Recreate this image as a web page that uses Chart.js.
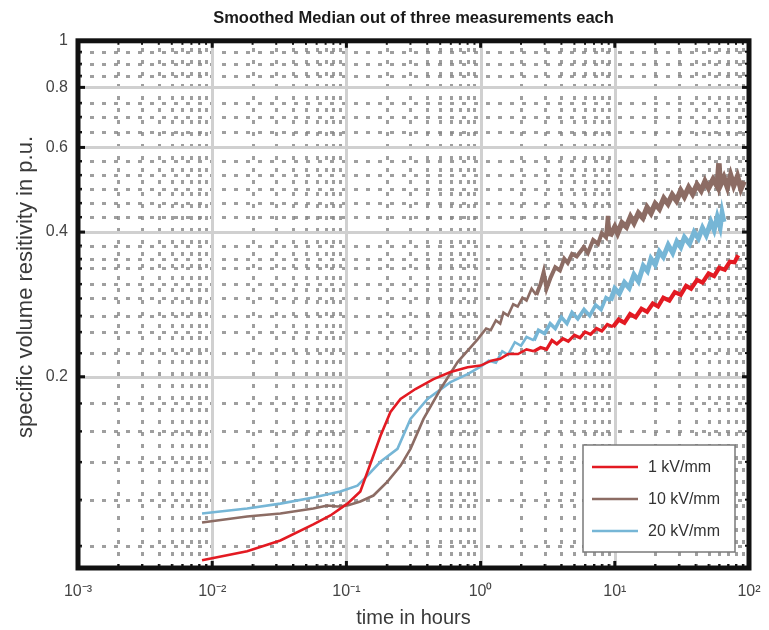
<!DOCTYPE html>
<html>
<head>
<meta charset="utf-8">
<script src="https://cdn.jsdelivr.net/npm/chart.js@4/dist/chart.umd.min.js"></script>
<style>
html,body{margin:0;padding:0;background:#fff;}
#wrap{width:769px;height:630px;}
</style>
</head>
<body>
<div id="wrap"><canvas id="c" width="769" height="630"></canvas></div>
<script>
// ---------------- data ----------------
const chartTitle = 'Smoothed Median out of three measurements each';
const xAxisTitle = 'time in hours';
const yAxisTitle = 'specific volume resitivity in p.u.';
const seriesLabels = ['1 kV/mm', '10 kV/mm', '20 kV/mm'];

const xTickValues = [0.001, 0.01, 0.1, 1, 10, 100];
const xTickLabels = ['10\u207B\u00B3', '10\u207B\u00B2', '10\u207B\u00B9', '10\u2070', '10\u00B9', '10\u00B2'];
const yTickValues = [0.2, 0.4, 0.6, 0.8, 1];
const yTickLabels = ['0.2', '0.4', '0.6', '0.8', '1'];
const yMinorValues = [0.089, 0.111, 0.133, 0.154, 0.176, 0.224, 0.248, 0.268, 0.291, 0.312, 0.336, 0.352, 0.375,
                      0.430, 0.460, 0.492, 0.526, 0.562, 0.646, 0.695, 0.743, 0.846, 0.896, 0.949];

// 1 kV/mm
const redTime = [0.0084, 0.0182, 0.0322, 0.0567, 0.076, 0.1017, 0.127, 0.151, 0.1796, 0.213, 0.253, 0.327, 0.446, 0.597, 0.80,
  1.0, 1.2, 1.4, 1.6, 1.9, 2.2, 2.5, 2.8, 3.1, 3.4, 3.7, 4.1, 4.5, 5.0, 5.5, 6.0, 6.6, 7.3, 8.0, 8.8, 9.7, 10.7, 11.8, 13,
  14.3, 15.8, 17.4, 19.2, 21, 23, 25.5, 28, 31, 34, 37, 41, 45, 50, 55, 60, 66, 72, 78, 83];
const redRho = [0.0830, 0.0867, 0.0913, 0.0986, 0.1029, 0.1089, 0.1154, 0.1318, 0.1507, 0.1689, 0.1798, 0.1886, 0.1977, 0.2045, 0.2094,
  0.211, 0.216, 0.218, 0.223, 0.223, 0.228, 0.226, 0.230, 0.228, 0.238, 0.234, 0.240, 0.237, 0.244, 0.241, 0.248, 0.245, 0.252, 0.249, 0.257, 0.254, 0.263, 0.259, 0.270,
  0.266, 0.277, 0.273, 0.284, 0.280, 0.292, 0.288, 0.300, 0.296, 0.309, 0.305, 0.318, 0.314, 0.328, 0.324, 0.337, 0.334, 0.347, 0.346, 0.358];

// 10 kV/mm
const brownTime = [0.0084, 0.0182, 0.0322, 0.0567, 0.0722, 0.0857, 0.1017, 0.127, 0.159, 0.2023, 0.253, 0.3003, 0.3755, 0.5029, 0.6737, 0.95,
  1.1, 1.19, 1.3, 1.4, 1.48, 1.6, 1.75, 1.89, 2.05, 2.2, 2.4, 2.6, 2.8, 2.95, 3.1, 3.33, 3.6, 3.9, 4.2, 4.46, 4.8, 5.2, 5.87, 6.3,
  6.9, 7.5, 8.0, 8.6, 8.87, 9.2, 10.0, 10.5, 11.3, 12.2, 13.1, 13.9, 15.0, 16.2, 17.4, 18.6, 20, 21.5, 23.2, 24.9, 26.8, 28.8,
  31, 33, 35.5, 38, 41, 44, 47, 50, 54, 58, 59.7, 61, 65, 69, 73, 77, 82, 87, 92];
const brownRho = [0.0995, 0.1024, 0.1039, 0.1064, 0.1079, 0.1074, 0.1079, 0.1100, 0.1132, 0.1210, 0.1305, 0.1416, 0.1634, 0.1886, 0.2145, 0.2392,
  0.252, 0.250, 0.262, 0.258, 0.272, 0.268, 0.283, 0.280, 0.292, 0.288, 0.305, 0.296, 0.312, 0.330, 0.305, 0.322, 0.338, 0.333, 0.352, 0.345, 0.360, 0.356, 0.372, 0.362,
  0.385, 0.378, 0.398, 0.390, 0.432, 0.392, 0.410, 0.398, 0.418, 0.410, 0.430, 0.418, 0.438, 0.428, 0.450, 0.438, 0.458, 0.447, 0.470, 0.458, 0.478, 0.465,
  0.488, 0.474, 0.495, 0.480, 0.502, 0.488, 0.510, 0.494, 0.515, 0.498, 0.556, 0.500, 0.520, 0.496, 0.525, 0.500, 0.522, 0.492, 0.510];

// 20 kV/mm
const blueTime = [0.0084, 0.0182, 0.0322, 0.0567, 0.0902, 0.1208, 0.1435, 0.1794, 0.2402, 0.3003, 0.4023, 0.597, 0.80,
  1.0, 1.15, 1.3, 1.45, 1.6, 1.8, 2.0, 2.2, 2.5, 2.7, 3.0, 3.3, 3.6, 4.0, 4.4, 4.8, 5.3, 5.9, 6.5, 7.2, 7.9, 8.6, 9.3, 10,
  10.8, 11.8, 12.8, 13.9, 15, 16.3, 17.5, 18.6, 20, 21.5, 23, 25, 27, 29, 31, 33, 36, 39, 42, 45, 48, 52, 55, 58, 61, 63, 65];
const blueRho = [0.1039, 0.1064, 0.1089, 0.1121, 0.1154, 0.1187, 0.1245, 0.1331, 0.1416, 0.1634, 0.1798, 0.1949, 0.2025,
  0.210, 0.216, 0.214, 0.226, 0.222, 0.236, 0.232, 0.242, 0.238, 0.250, 0.246, 0.258, 0.252, 0.266, 0.258, 0.272, 0.264, 0.276, 0.268, 0.282, 0.276, 0.292, 0.288, 0.305,
  0.298, 0.314, 0.306, 0.326, 0.316, 0.340, 0.332, 0.352, 0.342, 0.364, 0.355, 0.376, 0.362, 0.382, 0.372, 0.390, 0.378, 0.400, 0.388, 0.408, 0.394, 0.420, 0.404, 0.430, 0.410, 0.438, 0.420];

const seriesColors = ['#e31a22', '#8c6c64', '#76b6d6'];

// ---------------- helpers ----------------
const FONT = "'Liberation Sans', Arial, Helvetica, sans-serif";
const toPoints = (ts, vs) => ts.map((t, i) => ({x: t, y: vs[i]}));
// thicker stroke where the measured signal becomes noisy
const widthBy = (thin, mid, thick, tMid, tThick) => c => {
  const t = c.p0.parsed.x;
  return t >= tThick ? thick : (t >= tMid ? mid : thin);
};

const xMinorValues = [];
for (let k = -3; k <= 1; k++) {
  for (let m = 2; m <= 9; m++) xMinorValues.push(m * Math.pow(10, k));
}

const framePlugin = {
  id: 'frame',
  beforeDatasetsDraw(chart) {
    const {ctx, chartArea: a, scales: {x, y}} = chart;
    ctx.save();
    ctx.beginPath();
    ctx.rect(a.left, a.top, a.right - a.left, a.bottom - a.top);
    ctx.clip();
    // minor dotted grid
    ctx.strokeStyle = 'rgba(135,135,135,0.8)';
    ctx.lineWidth = 3;
    ctx.setLineDash([4, 8]);
    xMinorValues.forEach(v => {
      const px = Math.round(x.getPixelForValue(v)) + 0.5;
      ctx.beginPath(); ctx.moveTo(px, a.bottom); ctx.lineTo(px, a.top); ctx.stroke();
    });
    yMinorValues.forEach(v => {
      const py = Math.round(y.getPixelForValue(v)) + 0.5;
      ctx.beginPath(); ctx.moveTo(a.left, py); ctx.lineTo(a.right, py); ctx.stroke();
    });
    // major solid grid
    ctx.setLineDash([]);
    ctx.strokeStyle = '#d0d0d0';
    ctx.lineWidth = 3;
    xTickValues.forEach(v => {
      const px = Math.round(x.getPixelForValue(v)) + 0.5;
      ctx.beginPath(); ctx.moveTo(px, a.bottom); ctx.lineTo(px, a.top); ctx.stroke();
    });
    yTickValues.forEach(v => {
      const py = Math.round(y.getPixelForValue(v)) + 0.5;
      ctx.beginPath(); ctx.moveTo(a.left, py); ctx.lineTo(a.right, py); ctx.stroke();
    });
    ctx.restore();
  },
  afterDatasetsDraw(chart) {
    const {ctx, chartArea: a, scales: {x, y}} = chart;
    ctx.save();
    // tick marks (inward)
    ctx.strokeStyle = '#111';
    ctx.lineWidth = 3;
    xTickValues.forEach(v => {
      const px = x.getPixelForValue(v);
      ctx.beginPath(); ctx.moveTo(px, a.bottom); ctx.lineTo(px, a.bottom - 7); ctx.stroke();
      ctx.beginPath(); ctx.moveTo(px, a.top); ctx.lineTo(px, a.top + 7); ctx.stroke();
    });
    yTickValues.forEach(v => {
      const py = y.getPixelForValue(v);
      ctx.beginPath(); ctx.moveTo(a.left, py); ctx.lineTo(a.left + 7, py); ctx.stroke();
      ctx.beginPath(); ctx.moveTo(a.right, py); ctx.lineTo(a.right - 7, py); ctx.stroke();
    });
    ctx.lineWidth = 2;
    yMinorValues.forEach(v => {
      const py = y.getPixelForValue(v);
      ctx.beginPath(); ctx.moveTo(a.left, py); ctx.lineTo(a.left + 4, py); ctx.stroke();
      ctx.beginPath(); ctx.moveTo(a.right, py); ctx.lineTo(a.right - 4, py); ctx.stroke();
    });
    xMinorValues.forEach(v => {
      const px = x.getPixelForValue(v);
      ctx.beginPath(); ctx.moveTo(px, a.bottom); ctx.lineTo(px, a.bottom - 4); ctx.stroke();
      ctx.beginPath(); ctx.moveTo(px, a.top); ctx.lineTo(px, a.top + 4); ctx.stroke();
    });
    // frame
    ctx.strokeStyle = '#111';
    ctx.lineWidth = 5;
    ctx.strokeRect(a.left, a.top, a.right - a.left, a.bottom - a.top);

    // legend
    const bx = a.right - 166, by = a.bottom - 123, bw = 152, bh = 107;
    ctx.fillStyle = '#ffffff';
    ctx.fillRect(bx, by, bw, bh);
    ctx.strokeStyle = '#7a7a7a';
    ctx.lineWidth = 1.5;
    ctx.strokeRect(bx, by, bw, bh);
    ctx.font = '16px ' + FONT;
    ctx.textAlign = 'left';
    ctx.textBaseline = 'middle';
    chart.data.datasets.forEach((ds, i) => {
      const ly = by + 22 + i * 32;
      ctx.strokeStyle = ds.borderColor;
      ctx.lineWidth = 2.5;
      ctx.beginPath(); ctx.moveTo(bx + 9, ly); ctx.lineTo(bx + 55, ly); ctx.stroke();
      ctx.fillStyle = '#333';
      ctx.fillText(ds.label, bx + 65, ly + 1);
    });

    // y axis title
    ctx.translate(26, 287);
    ctx.rotate(-Math.PI / 2);
    ctx.font = '22px ' + FONT;
    ctx.fillStyle = '#3a3a3a';
    ctx.textAlign = 'center';
    ctx.textBaseline = 'middle';
    ctx.fillText(yAxisTitle, 0, 0);
    ctx.restore();
  }
};

new Chart(document.getElementById('c'), {
  type: 'line',
  data: {
    datasets: [
      {label: seriesLabels[0], data: toPoints(redTime, redRho), borderColor: seriesColors[0], borderWidth: 2.6,
       segment: {borderWidth: widthBy(2.6, 3.2, 4.2, 2.5, 9)}},
      {label: seriesLabels[1], data: toPoints(brownTime, brownRho), borderColor: seriesColors[1], borderWidth: 2.6,
       segment: {borderWidth: widthBy(2.6, 4, 5.5, 2.5, 9)}},
      {label: seriesLabels[2], data: toPoints(blueTime, blueRho), borderColor: seriesColors[2], borderWidth: 2.6,
       segment: {borderWidth: widthBy(2.6, 3.6, 5, 2.5, 9)}}
    ]
  },
  options: {
    responsive: false,
    animation: false,
    devicePixelRatio: 1,
    layout: {padding: {left: 0, right: 20, top: 0, bottom: 0}},
    elements: {point: {radius: 0}, line: {tension: 0, fill: false}},
    plugins: {
      legend: {display: false},
      tooltip: {enabled: false},
      title: {
        display: true,
        fullSize: false,
        text: chartTitle,
        color: '#1a1a1a',
        font: {family: FONT, size: 16.5, weight: 'bold'},
        padding: {top: 9, bottom: 12}
      }
    },
    scales: {
      x: {
        type: 'logarithmic',
        min: 0.001,
        max: 100,
        grid: {display: false, drawTicks: false},
        border: {display: false},
        afterBuildTicks: s => { s.ticks = xTickValues.map(v => ({value: v})); },
        afterFit: s => { s.height = 62; s.paddingLeft = 0; s.paddingRight = 0; },
        ticks: {
          autoSkip: false,
          maxRotation: 0,
          padding: 14,
          color: '#444',
          font: {family: FONT, size: 16},
          callback: v => { const i = xTickValues.findIndex(t => Math.abs(t - v) / t < 1e-6); return i >= 0 ? xTickLabels[i] : ''; }
        },
        title: {
          display: true,
          text: xAxisTitle,
          color: '#3a3a3a',
          font: {family: FONT, size: 20},
          padding: {top: 0, bottom: 0}
        }
      },
      y: {
        type: 'logarithmic',
        min: 0.08,
        max: 1,
        grid: {display: false, drawTicks: false},
        border: {display: false},
        afterBuildTicks: s => { s.ticks = yTickValues.map(v => ({value: v})); },
        afterFit: s => { s.width = 78; },
        ticks: {
          autoSkip: false,
          padding: 10,
          color: '#444',
          font: {family: FONT, size: 16},
          callback: v => { const i = yTickValues.findIndex(t => Math.abs(t - v) / t < 1e-6); return i >= 0 ? yTickLabels[i] : ''; }
        }
      }
    }
  },
  plugins: [framePlugin]
});
</script>
</body>
</html>
